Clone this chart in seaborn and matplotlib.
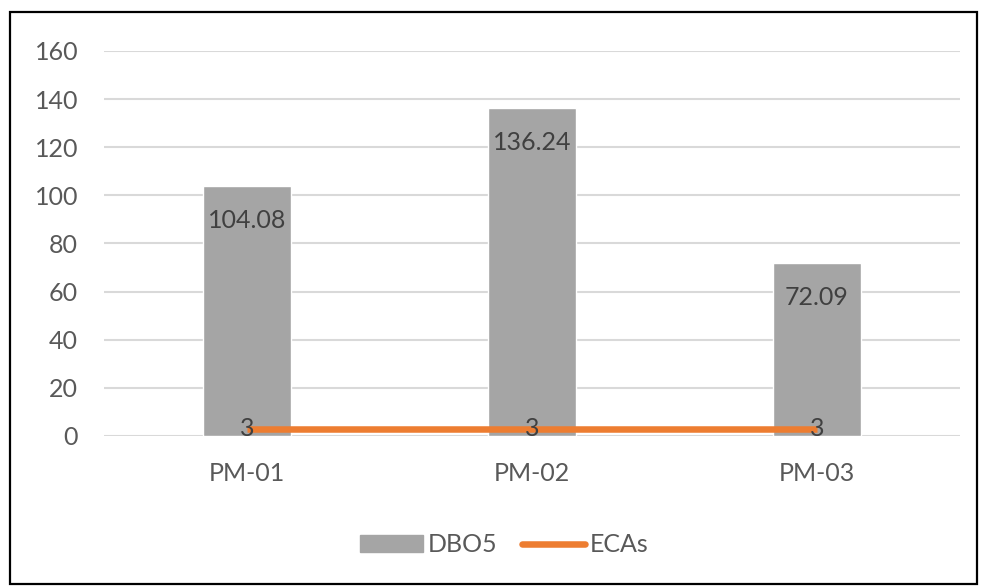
import matplotlib
matplotlib.use("Agg")
import matplotlib.pyplot as plt
import matplotlib.patches as mpatches
import matplotlib.lines as mlines
import pandas as pd
import seaborn as sns

# chart data
categories = ["PM-01", "PM-02", "PM-03"]
dbo5 = [104.08, 136.24, 72.09]
ecas = [3, 3, 3]

BAR_COLOR = "#A5A5A5"
LINE_COLOR = "#ED7D31"
TEXT_COLOR = "#595959"
LABEL_COLOR = "#404040"
FS = 18

sns.set_theme(style="white")
plt.rcParams["font.family"] = ["Lato", "DejaVu Sans"]

df = pd.DataFrame({"station": categories, "DBO5": dbo5, "ECAs": ecas})

fig = plt.figure(figsize=(9.81, 5.86), dpi=100)
ax = fig.add_axes([0.1065, 0.256, 0.8716, 0.657])

sns.barplot(data=df, x="station", y="DBO5", color=BAR_COLOR, width=0.31,
            saturation=1, ax=ax, zorder=2)
ax.plot(df["station"], df["ECAs"], color=LINE_COLOR, linewidth=4.7,
        solid_capstyle="butt", zorder=3)

# data labels
for i, v in enumerate(dbo5):
    ax.annotate(f"{v:.2f}", (i, v), xytext=(0, -25), textcoords="offset points",
                ha="center", va="center", fontsize=FS, color=LABEL_COLOR, zorder=4)
for i, v in enumerate(ecas):
    ax.annotate(f"{v}", (i, v), xytext=(0, 0), textcoords="offset points",
                ha="center", va="center", fontsize=FS, color=LABEL_COLOR, zorder=4)

ax.set_ylim(0, 160)
ax.set_xlim(-0.5, 2.5)
ax.set_yticks(range(0, 161, 20))
ax.yaxis.grid(True, color="#D9D9D9", linewidth=1.5, zorder=0)
ax.set_axisbelow(True)
for s in ax.spines.values():
    s.set_visible(False)
ax.set_xlabel("")
ax.set_ylabel("")
ax.tick_params(axis="both", length=0, labelsize=FS, colors=TEXT_COLOR)
ax.tick_params(axis="y", pad=19)
ax.tick_params(axis="x", pad=19)

handles = [mpatches.Patch(color=BAR_COLOR, label="DBO5"),
           mlines.Line2D([], [], color=LINE_COLOR, linewidth=4.7, label="ECAs")]
leg = fig.legend(handles=handles, loc="center", bbox_to_anchor=(0.514, 0.07),
                 ncol=2, frameon=False, fontsize=FS, handlelength=2.5,
                 handleheight=0.7, handletextpad=0.2, columnspacing=1.0)
for t in leg.get_texts():
    t.set_color(TEXT_COLOR)

# outer border
fig.patches.append(mpatches.Rectangle((0.0102, 0.0034), 0.9857, 0.976,
                                      transform=fig.transFigure, fill=False,
                                      edgecolor="black", linewidth=1.6))

fig.savefig("out.png", dpi=100, facecolor="white")
